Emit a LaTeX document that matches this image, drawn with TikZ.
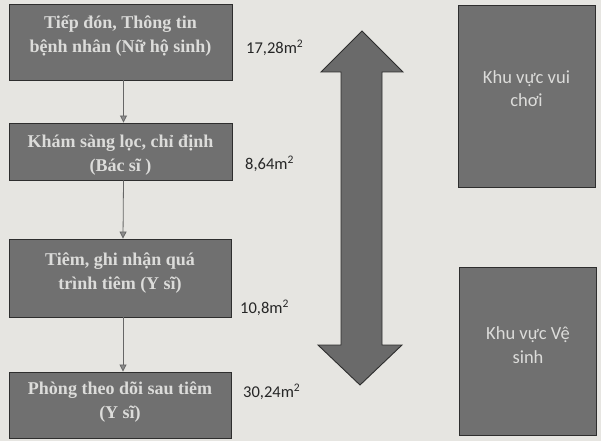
\documentclass[tikz,border=0pt]{standalone}
\usepackage{fontspec}
\setmainfont{Liberation Serif}
\newfontfamily\calfont{Carlito}
\usetikzlibrary{arrows.meta}
\definecolor{paper}{HTML}{E6E5E1}
\definecolor{boxfill}{HTML}{707070}
\definecolor{boxtext}{HTML}{DCDCDA}
\definecolor{edge}{HTML}{2E2E2E}
\tikzset{
  stepbox/.style={draw=edge, line width=0.9pt, fill=boxfill, inner sep=0pt},
  steptext/.style={text=boxtext, font=\fontsize{18}{24}\selectfont\bfseries, align=center, inner sep=0pt},
  zonebox/.style={draw=edge, line width=0.9pt, fill=boxfill, inner sep=0pt},
  zonetext/.style={text=boxtext, font=\calfont\fontsize{18.5}{23.5}\selectfont, align=center, inner sep=0pt},
  area/.style={font=\calfont\fontsize{16.5}{20}\selectfont, text=black!85, anchor=west, inner sep=0pt},
  flow/.style={draw=black!60, line width=0.8pt, -{Triangle[length=7pt,width=7pt,fill=black!45]}},
}
\begin{document}
\begin{tikzpicture}[x=1pt,y=-1pt]
\fill[paper] (0,0) rectangle (601,441);
\useasboundingbox (0,0) rectangle (601,441);
% left flow boxes
\node[stepbox, minimum width=223pt, minimum height=76pt] (b1) at (120.5,42) {};
\node[steptext] (t1) at (120.5,35.5) {Tiếp đón, Thông tin\\bệnh nhân (Nữ hộ sinh)};
\node[stepbox, minimum width=223pt, minimum height=57pt] (b2) at (120.5,151.5) {};
\node[steptext] (t2) at (120.5,155) {Khám sàng lọc, chỉ định\\(Bác sĩ )};
\node[stepbox, minimum width=222pt, minimum height=78pt] (b3) at (120,278) {};
\node[steptext] (t3) at (120,273.5) {Tiêm, ghi nhận quá\\trình tiêm (Y sĩ)};
\node[stepbox, minimum width=222pt, minimum height=66pt] (b4) at (120,405) {};
\node[steptext] (t4) at (120,402.5) {Phòng theo dõi sau tiêm\\(Y sĩ)};
% connectors
\draw[flow] ([xshift=3pt]b1.south) -- ([xshift=3pt]b2.north);
\draw[flow] ([xshift=3pt]b2.south) -- ([xshift=3pt]b3.north);
\draw[flow] ([xshift=3pt]b3.south) -- ([xshift=3pt]b4.north);
% area labels
\node[area] (l1) at (246,48) {17,28m\textsuperscript{2}};
\node[area] (l2) at (245,164) {8,64m\textsuperscript{2}};
\node[area] (l3) at (240,308) {10,8m\textsuperscript{2}};
\node[area] (l4) at (243,392) {30,24m\textsuperscript{2}};
% double arrow
\filldraw[fill=boxfill!95!black, draw=edge, line width=0.9pt, line join=miter]
  (362,31) -- (403,72) -- (382,72) -- (382,345) -- (402,345) -- (360,385)
  -- (318,345) -- (341,345) -- (341,72) -- (321,72) -- cycle;
% right zones
\node[zonebox, minimum width=137pt, minimum height=182pt] (z1) at (526.5,96) {};
\node[zonetext] (zt1) at (526.5,88.5) {Khu vực vui\\chơi};
\node[zonebox, minimum width=137pt, minimum height=168pt] (z2) at (528,351) {};
\node[zonetext] (zt2) at (528,345) {Khu vực Vệ\\sinh};
\end{tikzpicture}
\end{document}
